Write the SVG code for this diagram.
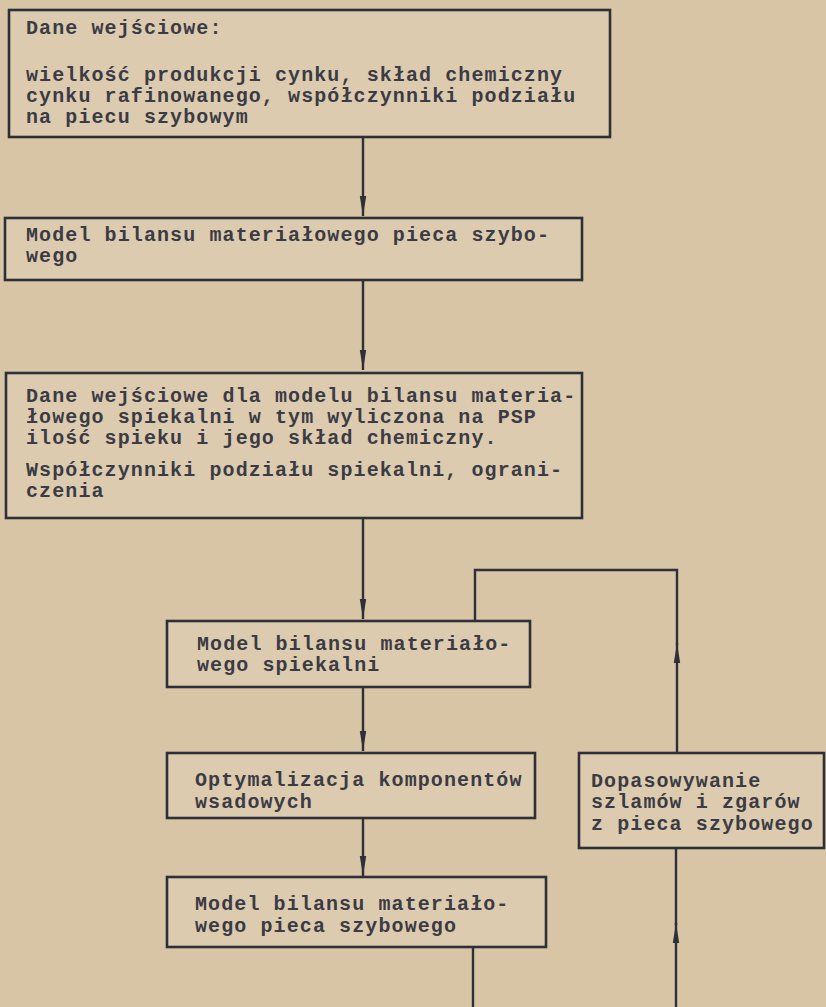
<svg xmlns="http://www.w3.org/2000/svg" width="826" height="1007" viewBox="0 0 826 1007">
<style>
.bg{fill:#d7c5a6}
.box{fill:#dccbae;stroke:#2f2f38;stroke-width:2.6}
.t{font-family:"Liberation Mono","DejaVu Sans Mono",monospace;font-size:20px;font-weight:bold;letter-spacing:1.1px;fill:#3b3b45}
.c{fill:none;stroke:#2f2f38;stroke-width:2.4}
</style>
<defs>
<marker id="ah" viewBox="0 0 20 8" refX="20" refY="4" markerWidth="20" markerHeight="8" markerUnits="userSpaceOnUse" orient="auto">
<path d="M0,0.8 L20,4 L0,7.2 Z" fill="#2f2f38"/>
</marker>
</defs>
<rect class="bg" x="0" y="0" width="826" height="1007"/>
<g id="connectors">
<path class="c" d="M363,137 V216" marker-end="url(#ah)"/>
<path class="c" d="M363,280 V370" marker-end="url(#ah)"/>
<path class="c" d="M363,518 V619" marker-end="url(#ah)"/>
<path class="c" d="M363,687 V751" marker-end="url(#ah)"/>
<path class="c" d="M363,818 V876" marker-end="url(#ah)"/>
<path class="c" d="M677,753 V643" marker-end="url(#ah)"/>
<path class="c" d="M677,645 V570 H475 V622"/>
<path class="c" d="M473,947 V1007"/>
<path class="c" d="M676,1007 V923" marker-end="url(#ah)"/>
<path class="c" d="M676,925 V848"/>
</g>
<g id="n1">
<rect class="box" x="9" y="10" width="601" height="127"/>
<text class="t" x="26" y="34">Dane wejściowe:</text>
<text class="t" x="26" y="81">wielkość produkcji cynku, skład chemiczny</text>
<text class="t" x="26" y="102">cynku rafinowanego, współczynniki podziału</text>
<text class="t" x="26" y="123">na piecu szybowym</text>
</g>
<g id="n2">
<rect class="box" x="5" y="218" width="577" height="62"/>
<text class="t" x="26" y="241">Model bilansu materiałowego pieca szybo-</text>
<text class="t" x="26" y="262">wego</text>
</g>
<g id="n3">
<rect class="box" x="6" y="373" width="576" height="145"/>
<text class="t" x="26" y="402">Dane wejściowe dla modelu bilansu materia-</text>
<text class="t" x="26" y="423">łowego spiekalni w tym wyliczona na PSP</text>
<text class="t" x="26" y="444">ilość spieku i jego skład chemiczny.</text>
<text class="t" x="26" y="476">Współczynniki podziału spiekalni, ograni-</text>
<text class="t" x="26" y="497">czenia</text>
</g>
<g id="n4">
<rect class="box" x="167" y="621" width="363" height="66"/>
<text class="t" x="197" y="650">Model bilansu materiało-</text>
<text class="t" x="197" y="671">wego spiekalni</text>
</g>
<g id="n5">
<rect class="box" x="167" y="753" width="368" height="65"/>
<text class="t" x="195" y="786">Optymalizacja komponentów</text>
<text class="t" x="195" y="808">wsadowych</text>
</g>
<g id="n6">
<rect class="box" x="579" y="753" width="245" height="95"/>
<text class="t" x="591" y="787">Dopasowywanie</text>
<text class="t" x="591" y="808">szlamów i zgarów</text>
<text class="t" x="591" y="830">z pieca szybowego</text>
</g>
<g id="n7">
<rect class="box" x="167" y="877" width="379" height="70"/>
<text class="t" x="195" y="910">Model bilansu materiało-</text>
<text class="t" x="195" y="932">wego pieca szybowego</text>
</g>
</svg>
